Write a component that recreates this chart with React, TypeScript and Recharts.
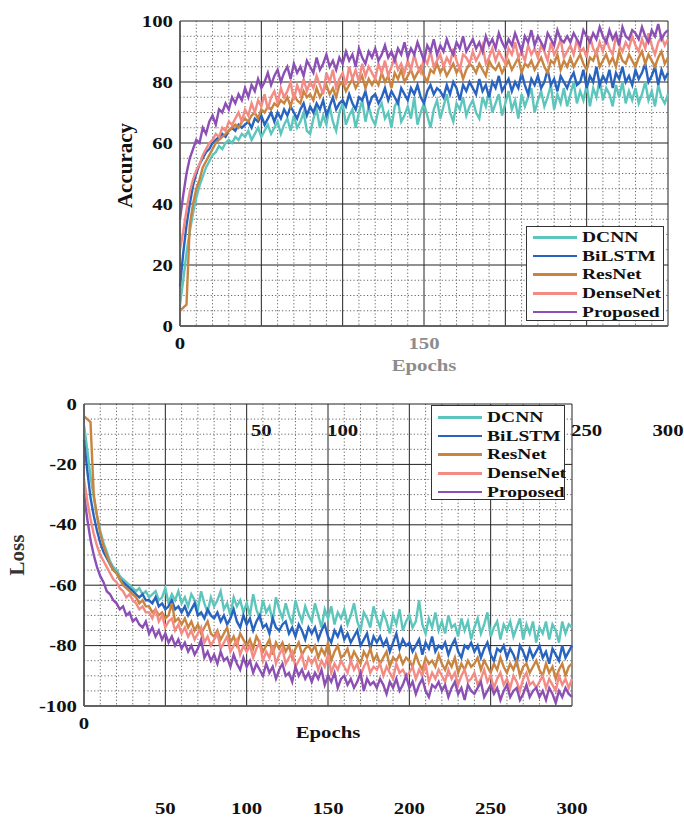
import React from 'react';
import { LineChart, Line, XAxis, YAxis, CartesianGrid, Legend } from 'recharts';

const EPOCHS = [
  0,2,4,6,8,10,12,14,16,18, 20,22,24,26,28,30,32,34,36,38, 40,42,44,46,48,50,52,54,56,58,
  60,62,64,66,68,70,72,74,76,78, 80,82,84,86,88,90,92,94,96,98, 100,102,104,106,108,110,112,114,116,118,
  120,122,124,126,128,130,132,134,136,138, 140,142,144,146,148,150,152,154,156,158, 160,162,164,166,168,170,172,174,176,178,
  180,182,184,186,188,190,192,194,196,198, 200,202,204,206,208,210,212,214,216,218, 220,222,224,226,228,230,232,234,236,238,
  240,242,244,246,248,250,252,254,256,258, 260,262,264,266,268,270,272,274,276,278, 280,282,284,286,288,290,292,294,296,298,
  300];

const X_TICKS = [0, 50, 100, 150, 200, 250, 300];
const X_MINOR = [10,20,30,40,60,70,80,90,110,120,130,140,160,170,180,190,210,220,230,240,260,270,280,290];
const ACC_TICKS = [0, 20, 40, 60, 80, 100];
const ACC_MINOR = [5,10,15,25,30,35,45,50,55,65,70,75,85,90,95];
const LOSS_TICKS = [-100, -80, -60, -40, -20, 0];
const LOSS_MINOR = [-95,-90,-85,-75,-70,-65,-55,-50,-45,-35,-30,-25,-15,-10,-5];

// Accuracy (top chart), one value every 2 epochs
const DCNN_ACC = [
  7,15,24,31,37,42,46,49,52,54, 56,57,59,58,60,61,60,62,61,63, 62,64,61,63,65,62,64,66,63,65,
  67,63,66,68,64,69,65,67,70,64, 63,68,71,65,69,66,72,67,64,70, 73,66,69,71,65,70,74,67,72,68,
  66,71,73,68,70,65,72,74,67,69, 72,68,75,66,70,73,69,65,71,74, 68,72,76,70,67,73,71,75,69,72,
  74,70,68,75,72,77,70,73,76,69, 73,77,71,74,68,76,72,75,78,70, 74,77,72,75,79,71,76,73,78,72,
  76,80,73,77,74,79,72,78,75,81, 74,78,76,72,79,75,80,73,77,74, 78,73,76,80,74,77,72,79,75,73,
  76];
const BILSTM_ACC = [
  13,24,33,40,46,50,53,55,57,58, 60,61,62,63,62,64,65,64,66,65, 66,67,65,68,67,69,66,68,70,67,
  70,68,71,69,72,70,68,71,73,69, 72,70,73,71,74,69,72,75,71,73, 74,72,76,73,71,75,74,77,72,75,
  76,73,75,78,74,77,75,73,78,76, 74,78,76,79,75,73,77,79,76,78, 77,75,79,76,80,78,74,79,77,80,
  78,76,81,77,79,75,80,78,82,77, 79,81,77,80,78,83,79,76,81,79, 82,78,80,84,79,81,77,82,80,78,
  81,83,79,80,84,78,82,80,85,79, 82,80,84,78,83,81,85,80,82,79, 84,81,83,86,80,82,85,79,84,81,
  83];
const RESNET_ACC = [
  5,6,7,33,40,45,48,52,54,56, 58,60,61,62,63,64,65,66,65,67, 68,67,69,70,68,71,70,72,71,73,
  72,74,73,75,72,76,74,73,77,75, 76,74,78,75,77,79,76,78,75,79, 80,77,79,81,78,80,82,78,81,79,
  81,79,83,80,82,78,83,81,84,80, 82,84,81,83,85,82,80,84,83,86, 83,85,82,84,86,83,85,81,84,86,
  85,83,86,84,82,87,85,84,86,83, 85,87,84,86,88,83,86,85,87,84, 86,88,85,83,87,86,89,84,87,85,
  88,85,87,89,86,84,88,87,90,85, 87,89,86,88,85,90,87,86,89,87, 85,88,90,86,89,87,85,88,90,86,
  88];
const DENSENET_ACC = [
  25,31,38,44,48,51,53,56,58,60, 61,63,62,65,64,67,66,68,70,67, 71,69,73,70,74,72,76,71,75,77,
  73,78,75,77,80,74,79,76,81,77, 80,78,82,79,76,83,80,84,78,81, 83,79,85,81,84,80,86,82,85,83,
  81,86,83,87,82,85,88,84,86,83, 87,84,89,85,83,88,86,90,85,87, 89,85,88,86,91,87,84,89,88,86,
  90,87,89,92,86,88,91,87,90,88, 86,91,89,93,88,90,87,92,89,91, 88,92,90,87,93,89,91,94,88,90,
  92,89,94,90,91,88,95,91,89,93, 90,94,91,89,95,92,90,93,91,95, 92,90,94,91,96,92,89,93,95,92,
  94];
const PROPOSED_ACC = [
  35,43,50,55,58,61,60,65,63,67, 69,66,71,70,73,71,75,73,76,74, 78,75,79,77,81,78,80,83,79,82,
  84,80,83,85,81,86,83,85,82,87, 85,83,88,84,86,89,85,87,84,88, 86,90,87,89,85,91,88,86,90,88,
  91,87,89,92,88,90,87,91,89,93, 88,91,89,93,90,87,92,90,94,89, 92,90,94,91,89,93,91,95,90,92,
  94,91,93,90,95,92,94,91,96,93, 91,94,92,96,93,90,95,93,97,92, 95,93,91,96,94,92,97,94,93,95,
  93,96,94,92,97,95,93,96,94,98, 95,93,97,94,96,92,98,95,94,97, 96,94,98,95,93,97,95,99,94,96,
  97];

// Loss (bottom chart), one value every 2 epochs
const DCNN_LOSS = [
  -7,-15,-24,-31,-37,-42,-46,-49,-52,-54, -55,-57,-58,-59,-60,-61,-62,-61,-63,-62, -64,-63,-62,-65,-64,-61,-66,-63,-65,-62,
  -66,-64,-67,-63,-65,-68,-62,-66,-69,-64, -67,-65,-62,-68,-66,-70,-64,-67,-65,-69, -66,-70,-63,-68,-71,-65,-69,-67,-72,-64,
  -68,-71,-66,-70,-73,-65,-69,-72,-67,-70, -72,-66,-70,-74,-68,-71,-67,-73,-69,-71, -68,-73,-70,-66,-72,-75,-69,-71,-74,-67,
  -71,-74,-69,-72,-76,-70,-73,-68,-75,-72, -70,-74,-72,-65,-73,-76,-71,-74,-69,-75, -72,-76,-70,-74,-73,-77,-71,-75,-72,-78,
  -74,-71,-76,-73,-69,-77,-74,-72,-78,-73, -75,-72,-77,-74,-71,-78,-73,-76,-72,-79, -74,-76,-72,-78,-73,-75,-79,-72,-76,-73,
  -74];
const BILSTM_LOSS = [
  -12,-22,-31,-37,-42,-46,-49,-51,-53,-55, -56,-58,-59,-60,-61,-62,-63,-64,-63,-65, -65,-66,-64,-67,-66,-68,-67,-65,-68,-67,
  -69,-67,-70,-68,-66,-70,-69,-71,-68,-70, -71,-69,-72,-70,-73,-71,-68,-72,-74,-70, -73,-71,-75,-72,-70,-74,-73,-76,-71,-74,
  -75,-73,-72,-76,-74,-77,-73,-75,-78,-74, -76,-74,-78,-75,-73,-77,-79,-75,-77,-74, -78,-76,-79,-77,-75,-80,-78,-76,-81,-77,
  -79,-77,-80,-78,-82,-79,-76,-81,-78,-80, -79,-82,-80,-78,-83,-79,-81,-77,-82,-80, -81,-79,-83,-80,-78,-82,-84,-80,-81,-79,
  -82,-80,-84,-81,-79,-83,-85,-81,-82,-80, -84,-81,-83,-86,-80,-82,-85,-81,-84,-82, -80,-84,-82,-86,-81,-83,-85,-80,-84,-82,
  -80];
const RESNET_LOSS = [
  -4,-5,-6,-30,-37,-43,-47,-50,-53,-55, -56,-58,-60,-61,-62,-63,-64,-66,-65,-67, -67,-69,-68,-70,-69,-71,-70,-66,-72,-71,
  -73,-71,-74,-72,-75,-73,-76,-74,-72,-76, -77,-75,-78,-76,-74,-79,-77,-80,-76,-78, -80,-78,-81,-77,-79,-82,-80,-78,-83,-79,
  -81,-79,-82,-80,-84,-81,-79,-83,-81,-80, -82,-80,-84,-81,-83,-79,-85,-82,-80,-84, -83,-81,-85,-82,-84,-86,-82,-84,-81,-85,
  -83,-86,-84,-82,-87,-84,-85,-83,-86,-84, -85,-87,-83,-86,-88,-84,-86,-85,-87,-83, -86,-88,-85,-87,-84,-89,-86,-88,-85,-87,
  -86,-84,-88,-85,-87,-89,-86,-88,-84,-87, -89,-86,-88,-85,-90,-87,-86,-89,-87,-85, -88,-90,-86,-89,-87,-91,-88,-86,-90,-87,
  -86];
const DENSENET_LOSS = [
  -25,-32,-38,-43,-47,-50,-52,-54,-56,-58, -59,-61,-62,-64,-63,-65,-66,-68,-67,-69, -69,-71,-68,-72,-70,-74,-72,-71,-75,-73,
  -76,-74,-77,-75,-78,-76,-74,-79,-77,-80, -78,-76,-81,-79,-77,-82,-80,-78,-83,-80, -82,-80,-84,-81,-79,-85,-82,-84,-80,-86,
  -83,-81,-86,-84,-82,-87,-85,-83,-88,-84, -86,-84,-88,-85,-87,-83,-89,-86,-88,-85, -87,-89,-85,-88,-86,-90,-87,-85,-89,-87,
  -88,-86,-90,-87,-89,-91,-86,-89,-88,-90, -89,-87,-91,-88,-90,-86,-92,-89,-91,-88, -90,-92,-88,-91,-89,-93,-90,-88,-92,-91,
  -89,-93,-91,-88,-92,-90,-94,-91,-89,-93, -91,-94,-90,-92,-95,-91,-89,-93,-92,-94, -92,-90,-94,-91,-93,-95,-90,-93,-91,-94,
  -91];
const PROPOSED_LOSS = [
  -30,-38,-45,-50,-54,-57,-59,-62,-63,-65, -66,-68,-67,-70,-69,-72,-71,-73,-74,-72, -76,-74,-77,-75,-78,-76,-79,-77,-80,-78,
  -81,-79,-82,-80,-83,-81,-78,-84,-82,-85, -83,-86,-82,-85,-84,-87,-83,-86,-88,-84, -87,-85,-89,-86,-88,-90,-86,-89,-87,-91,
  -88,-86,-90,-89,-92,-87,-90,-88,-91,-89, -92,-89,-91,-88,-93,-90,-92,-89,-94,-91, -90,-93,-91,-94,-92,-89,-95,-91,-93,-92,
  -94,-91,-93,-96,-92,-94,-91,-95,-93,-90, -94,-92,-96,-93,-91,-95,-97,-93,-94,-92, -95,-93,-97,-94,-92,-96,-94,-98,-93,-95,
  -96,-94,-92,-97,-95,-93,-96,-94,-98,-95, -93,-97,-95,-94,-98,-96,-93,-97,-95,-94, -97,-95,-98,-94,-96,-99,-95,-97,-94,-96,
  -97];

const SERIES = [
  { key: 'dcnn', name: 'DCNN', color: '#5cc6bd' },
  { key: 'bilstm', name: 'BiLSTM', color: '#2864bf' },
  { key: 'resnet', name: 'ResNet', color: '#c9843f' },
  { key: 'densenet', name: 'DenseNet', color: '#f48a84' },
  { key: 'proposed', name: 'Proposed', color: '#8c4fb4' },
];

const accData = EPOCHS.map((e, i) => ({
  epoch: e, dcnn: DCNN_ACC[i], bilstm: BILSTM_ACC[i], resnet: RESNET_ACC[i], densenet: DENSENET_ACC[i], proposed: PROPOSED_ACC[i],
}));
const lossData = EPOCHS.map((e, i) => ({
  epoch: e, dcnn: DCNN_LOSS[i], bilstm: BILSTM_LOSS[i], resnet: RESNET_LOSS[i], densenet: DENSENET_LOSS[i], proposed: PROPOSED_LOSS[i],
}));

const SERIF = "'Liberation Serif','Times New Roman',serif";
const SX = 1.3;

function STxt(props: any) {
  const { x, y, anchor = 'middle', size = 16, fill = '#111', children, sx = SX } = props;
  return (
    <text transform={`translate(${x},${y}) scale(${sx},1)`} textAnchor={anchor} fontFamily={SERIF} fontWeight="bold" fontSize={size} fill={fill}>
      {children}
    </text>
  );
}

function RotTxt(props: any) {
  const { x, y, size = 20, fill = '#111', children } = props;
  return (
    <text transform={`translate(${x},${y}) rotate(-90)`} textAnchor="middle" fontFamily={SERIF} fontWeight="bold" fontSize={size} fill={fill}>
      {children}
    </text>
  );
}

const TopXTick = (props: any) => {
  const { x, y, payload } = props;
  const v = payload.value;
  if (v === 0) return <STxt x={x} y={y + 15}>0</STxt>;
  if (v === 150) return <STxt x={x} y={y + 15} fill="#8c8c8c">150</STxt>;
  if (v === 200) return null;
  return <STxt x={x} y={y + 102}>{v}</STxt>;
};

const BottomXTick = (props: any) => {
  const { x, y, payload } = props;
  const v = payload.value;
  if (v === 0) return <STxt x={x} y={y + 15}>0</STxt>;
  return <STxt x={x} y={y + 100}>{v}</STxt>;
};

const YTick = (props: any) => {
  const { x, y, payload } = props;
  return <STxt x={x + 1} y={y + 5.5} anchor="end">{payload.value}</STxt>;
};

function LegendBox(props: any) {
  const { padTop } = props;
  return (
    <div style={{ width: '100%', height: '100%', boxSizing: 'border-box', border: '1.5px solid #333', background: '#fff', padding: `${padTop}px 0 0 6px` }}>
      {SERIES.map((s) => (
        <div key={s.key} style={{ height: 18.7, display: 'flex', alignItems: 'center' }}>
          <div style={{ width: 44, height: 2.6, background: s.color, marginRight: 5, flex: 'none' }} />
          <span style={{ fontFamily: SERIF, fontWeight: 'bold', fontSize: 15, lineHeight: 1, display: 'inline-block', transform: `scaleX(${SX})`, transformOrigin: 'left center', color: '#111', whiteSpace: 'nowrap' }}>
            {s.name}
          </span>
        </div>
      ))}
    </div>
  );
}

function renderLines() {
  return SERIES.map((s) => (
    <Line key={s.key} type="linear" dataKey={s.key} name={s.name} stroke={s.color} strokeWidth={2.4} dot={false} activeDot={false} isAnimationActive={false} />
  ));
}

export default function App() {
  return (
    <div style={{ position: 'absolute', left: 0, top: 0, width: 684, height: 819, background: '#fff', overflow: 'hidden' }}>
      <div style={{ position: 'absolute', left: 0, top: 0 }}>
        <LineChart width={684} height={819} data={accData} margin={{ top: 21, right: 16, left: 120, bottom: 463 }}>
          <CartesianGrid stroke="#666" strokeDasharray="1.2 2.2" verticalValues={X_MINOR} horizontalValues={ACC_MINOR} />
          <CartesianGrid stroke="#222" strokeWidth={1} verticalValues={X_TICKS} horizontalValues={ACC_TICKS} />
          <XAxis dataKey="epoch" type="number" domain={[0, 300]} ticks={X_TICKS} interval={0} tick={<TopXTick />} tickLine={false}
            axisLine={{ stroke: '#555', strokeWidth: 1.5 }}
            label={{ content: (p: any) => <STxt x={p.viewBox.x + p.viewBox.width / 2} y={p.viewBox.y + 45} fill="#8c8c8c">Epochs</STxt> }} />
          <YAxis type="number" domain={[0, 100]} ticks={ACC_TICKS} interval={0} width={60} tick={<YTick />} tickLine={false}
            axisLine={{ stroke: '#555', strokeWidth: 1.5 }}
            label={{ content: (p: any) => <RotTxt x={p.viewBox.x + 12} y={p.viewBox.y + p.viewBox.height / 2 - 8} size={21}>Accuracy</RotTxt> }} />
          {renderLines()}
          <Legend layout="vertical" align="center" verticalAlign="middle" content={() => <LegendBox padTop={1} />}
            wrapperStyle={{ position: 'absolute', left: 526, top: 226, width: 138, height: 95 }} />
        </LineChart>
      </div>
      <div style={{ position: 'absolute', left: 0, top: 0 }}>
        <LineChart width={684} height={819} data={lossData} margin={{ top: 404, right: 112, left: 24, bottom: 83 }}>
          <CartesianGrid stroke="#666" strokeDasharray="1.2 2.2" verticalValues={X_MINOR} horizontalValues={LOSS_MINOR} />
          <CartesianGrid stroke="#222" strokeWidth={1} verticalValues={X_TICKS} horizontalValues={LOSS_TICKS} />
          <XAxis dataKey="epoch" type="number" domain={[0, 300]} ticks={X_TICKS} interval={0} tick={<BottomXTick />} tickLine={false}
            axisLine={{ stroke: '#555', strokeWidth: 1.5 }}
            label={{ content: (p: any) => <STxt x={p.viewBox.x + p.viewBox.width / 2} y={p.viewBox.y + 32}>Epochs</STxt> }} />
          <YAxis type="number" domain={[-100, 0]} ticks={LOSS_TICKS} interval={0} width={60} tick={<YTick />} tickLine={false}
            axisLine={{ stroke: '#555', strokeWidth: 1.5 }}
            label={{ content: (p: any) => <RotTxt x={p.viewBox.x} y={p.viewBox.y + p.viewBox.height / 2} size={21} fill="#333">Loss</RotTxt> }} />
          {renderLines()}
          <Legend layout="vertical" align="center" verticalAlign="middle" content={() => <LegendBox padTop={2} />}
            wrapperStyle={{ position: 'absolute', left: 431, top: 405, width: 134, height: 95 }} />
        </LineChart>
      </div>
    </div>
  );
}
